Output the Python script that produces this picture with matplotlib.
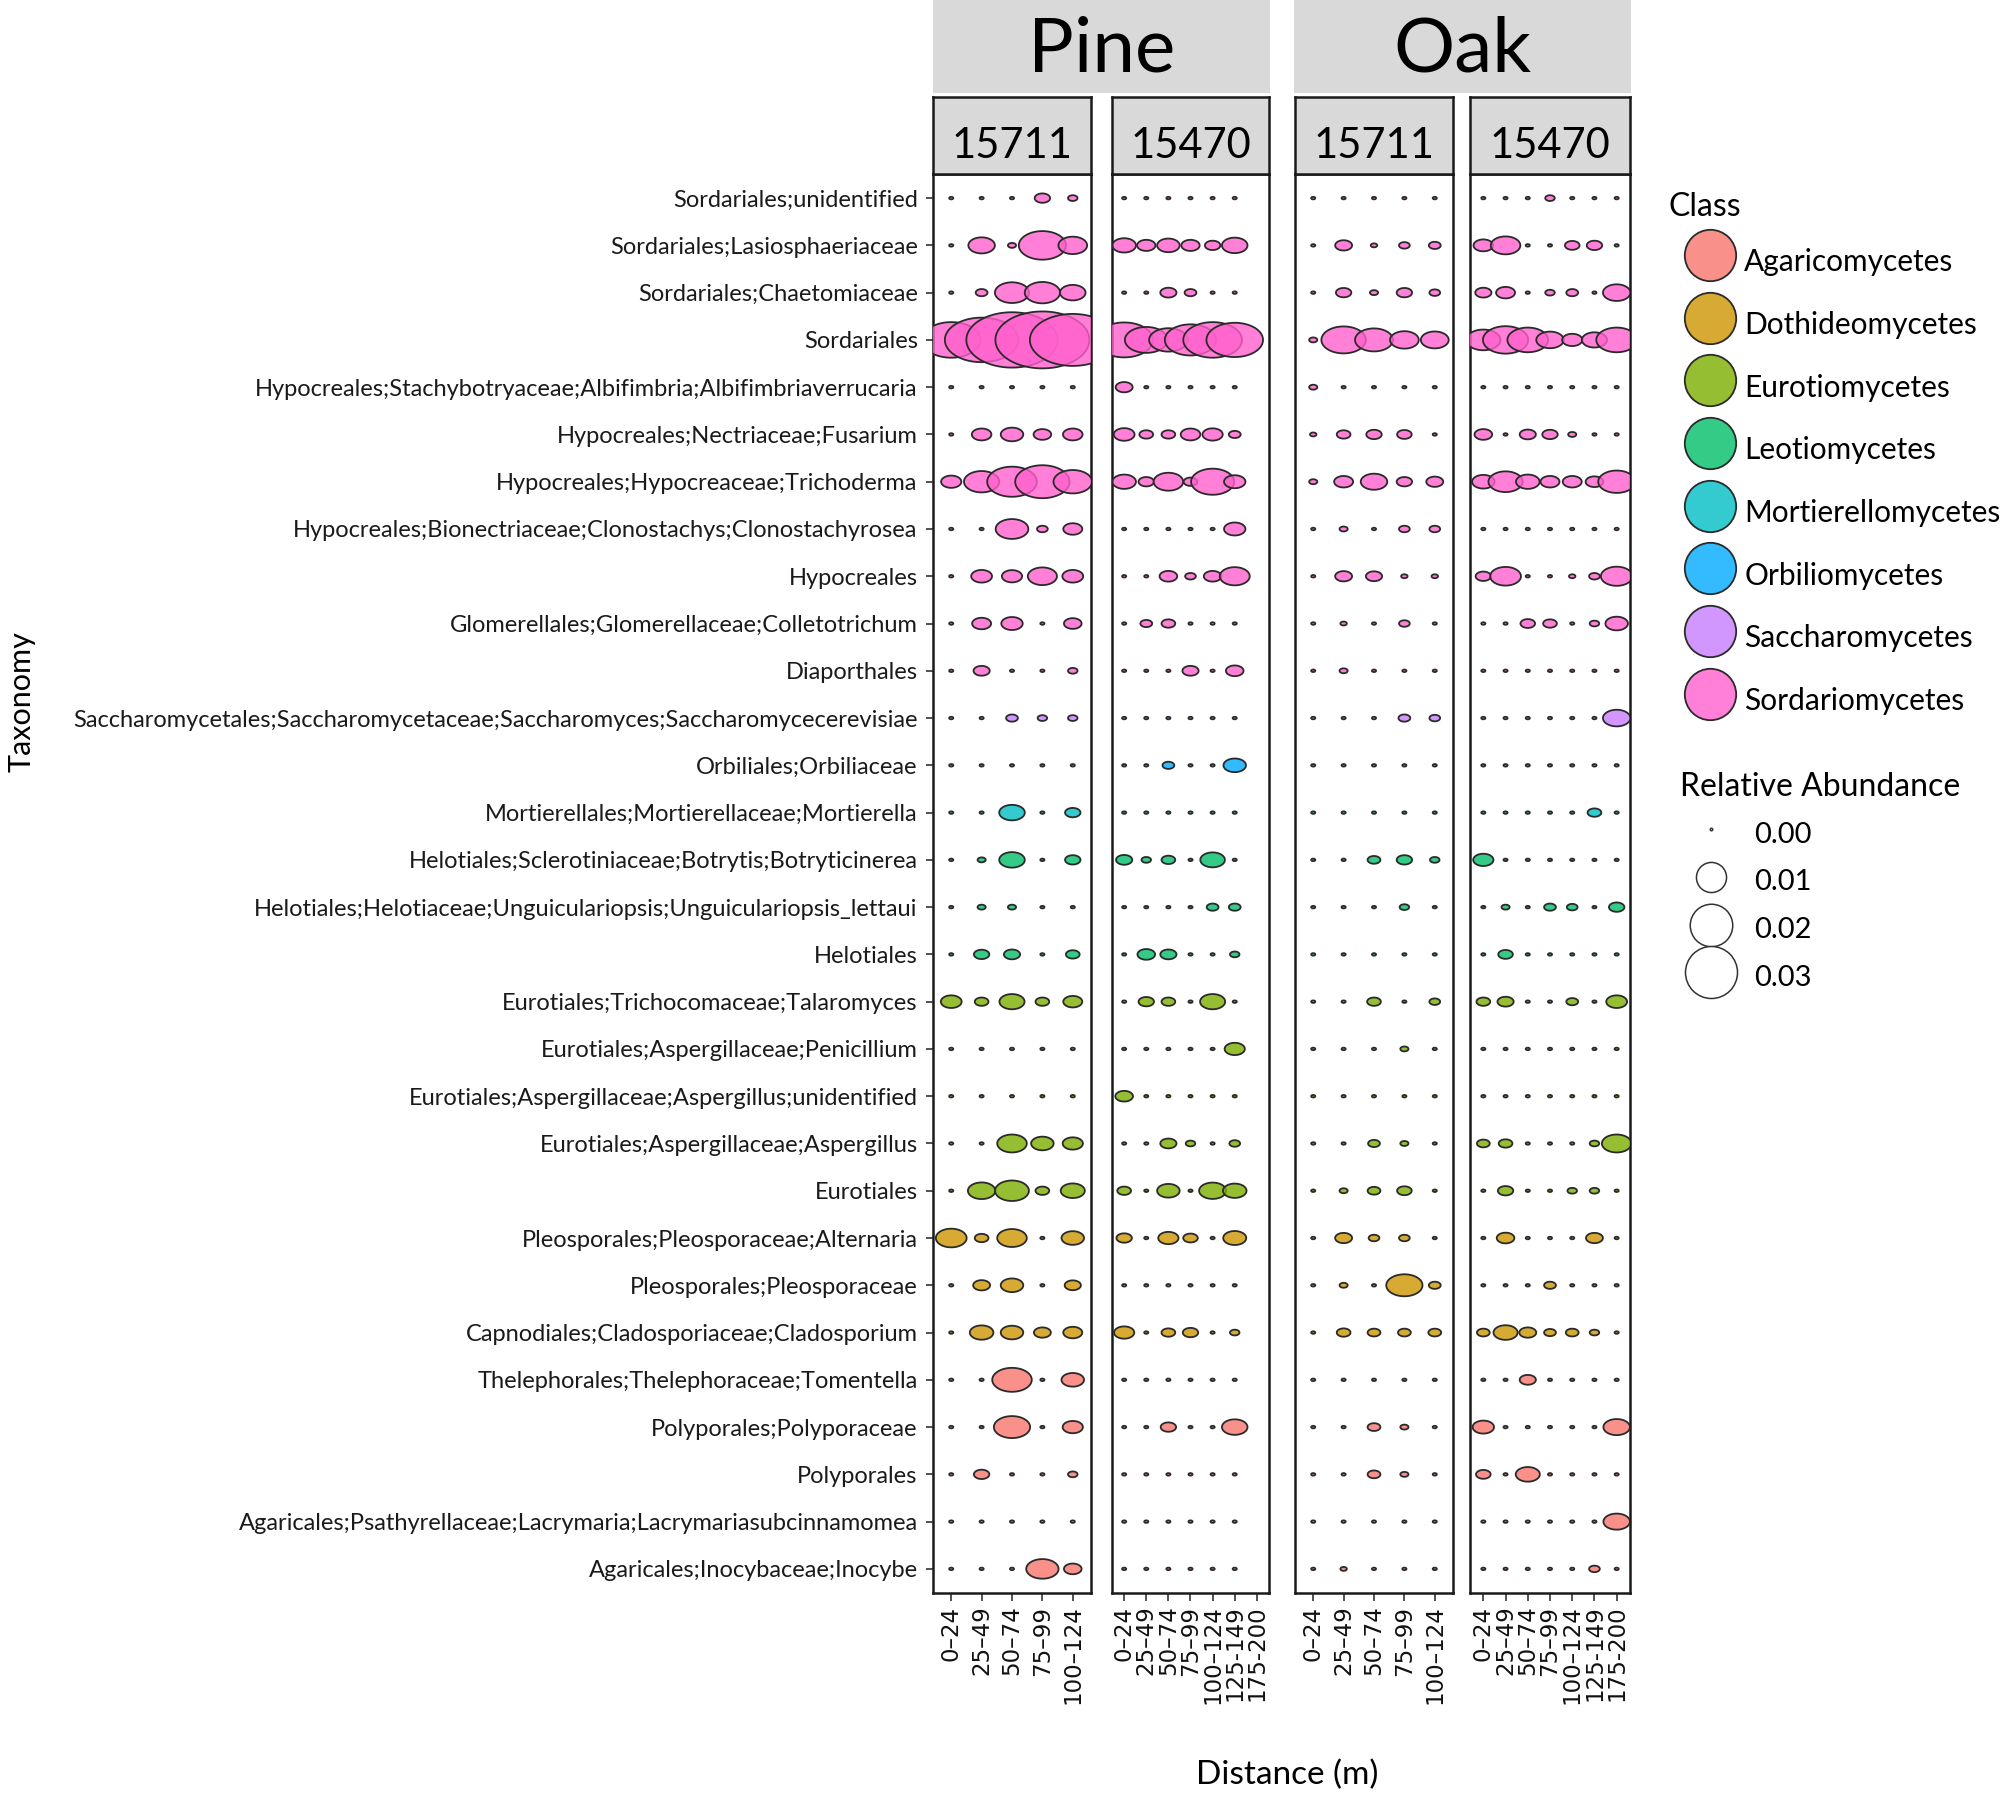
import numpy as np
import matplotlib.pyplot as plt
from matplotlib.path import Path
from matplotlib.lines import Line2D
from matplotlib.colors import to_rgba

W, H, DPI = 2008, 1801, 100
TEXT_FONT = ['Lato', 'DejaVu Sans']

taxa = [
    "Sordariales;unidentified",
    "Sordariales;Lasiosphaeriaceae",
    "Sordariales;Chaetomiaceae",
    "Sordariales",
    "Hypocreales;Stachybotryaceae;Albifimbria;Albifimbriaverrucaria",
    "Hypocreales;Nectriaceae;Fusarium",
    "Hypocreales;Hypocreaceae;Trichoderma",
    "Hypocreales;Bionectriaceae;Clonostachys;Clonostachyrosea",
    "Hypocreales",
    "Glomerellales;Glomerellaceae;Colletotrichum",
    "Diaporthales",
    "Saccharomycetales;Saccharomycetaceae;Saccharomyces;Saccharomycecerevisiae",
    "Orbiliales;Orbiliaceae",
    "Mortierellales;Mortierellaceae;Mortierella",
    "Helotiales;Sclerotiniaceae;Botrytis;Botryticinerea",
    "Helotiales;Helotiaceae;Unguiculariopsis;Unguiculariopsis_lettaui",
    "Helotiales",
    "Eurotiales;Trichocomaceae;Talaromyces",
    "Eurotiales;Aspergillaceae;Penicillium",
    "Eurotiales;Aspergillaceae;Aspergillus;unidentified",
    "Eurotiales;Aspergillaceae;Aspergillus",
    "Eurotiales",
    "Pleosporales;Pleosporaceae;Alternaria",
    "Pleosporales;Pleosporaceae",
    "Capnodiales;Cladosporiaceae;Cladosporium",
    "Thelephorales;Thelephoraceae;Tomentella",
    "Polyporales;Polyporaceae",
    "Polyporales",
    "Agaricales;Psathyrellaceae;Lacrymaria;Lacrymariasubcinnamomea",
    "Agaricales;Inocybaceae;Inocybe",
]

class_names = ["Agaricomycetes", "Dothideomycetes", "Eurotiomycetes", "Leotiomycetes",
               "Mortierellomycetes", "Orbiliomycetes", "Saccharomycetes", "Sordariomycetes"]
class_colors = ["#F8766D", "#CD9600", "#7CAE00", "#00BE67",
                "#00BFC4", "#00A9FF", "#C77CFF", "#FF61CC"]

# class of each taxon row (index into class_names)
taxon_class = [7] * 11 + [6, 5, 4, 3, 3, 3, 2, 2, 2, 2, 2, 1, 1, 1, 0, 0, 0, 0, 0]

dist_5 = ["0\u201324", "25\u201349", "50\u201374", "75\u201399", "100\u2013124"]
dist_7 = dist_5 + ["125-149", "175-200"]

# relative abundance, rows = taxa, columns = distance classes
pine_15711 = [
    [0, 0, 0, 0.0009, 0.0003],
    [0, 0.0028, 0.0002, 0.009, 0.0033],
    [0, 0.0005, 0.0047, 0.005, 0.0026],
    [0.014, 0.022, 0.034, 0.036, 0.03],
    [0, 0, 0, 0, 0],
    [0, 0.0015, 0.002, 0.0012, 0.0015],
    [0.0016, 0.005, 0.01, 0.012, 0.006],
    [0, 0, 0.0043, 0.0004, 0.0014],
    [0, 0.0017, 0.0016, 0.0034, 0.0017],
    [0, 0.0014, 0.0018, 0, 0.0012],
    [0, 0.001, 0, 0, 0.0003],
    [0, 0, 0.0005, 0.0003, 0.0003],
    [0, 0, 0, 0, 0],
    [0, 0, 0.0026, 0, 0.0009],
    [0, 0.0002, 0.0026, 0, 0.0009],
    [0, 0.0002, 0.0002, 0, 0],
    [0, 0.0009, 0.001, 0, 0.0007],
    [0.0017, 0.0007, 0.0025, 0.0007, 0.0014],
    [0, 0, 0, 0, 0],
    [0, 0, 0, 0, 0],
    [0, 0, 0.0035, 0.002, 0.0016],
    [0, 0.003, 0.0046, 0.0007, 0.0023],
    [0.0038, 0.0007, 0.0035, 0, 0.002],
    [0, 0.0011, 0.002, 0, 0.001],
    [0, 0.0022, 0.002, 0.0011, 0.0014],
    [0, 0, 0.0063, 0, 0.002],
    [0, 0, 0.0053, 0, 0.0016],
    [0, 0.0009, 0, 0, 0.0003],
    [0, 0, 0, 0, 0],
    [0, 0, 0, 0.0042, 0.0012],
]

# no sample in the 175-200 class at this site
pine_15470 = [
    [0, 0, 0, 0, 0, 0],
    [0.0022, 0.0013, 0.002, 0.0013, 0.0009, 0.0026],
    [0, 0, 0.001, 0.0005, 0, 0],
    [0.0135, 0.0074, 0.006, 0.0107, 0.014, 0.013],
    [0.0011, 0, 0, 0, 0, 0],
    [0.0017, 0.0007, 0.0007, 0.0015, 0.0016, 0.0005],
    [0.0022, 0.0009, 0.0035, 0.0007, 0.0075, 0.0018],
    [0, 0, 0, 0, 0, 0.0018],
    [0, 0, 0.0012, 0.0004, 0.0012, 0.0036],
    [0, 0.0005, 0.0007, 0, 0, 0],
    [0, 0, 0, 0.001, 0, 0.0012],
    [0, 0, 0, 0, 0, 0],
    [0, 0, 0.0005, 0, 0, 0.002],
    [0, 0, 0, 0, 0, 0],
    [0.001, 0.0003, 0.0007, 0, 0.0024, 0],
    [0, 0, 0, 0, 0.0005, 0.0005],
    [0, 0.0012, 0.001, 0, 0, 0.0003],
    [0, 0.0009, 0.0007, 0, 0.0025, 0],
    [0, 0, 0, 0, 0, 0.0016],
    [0.0012, 0, 0, 0, 0, 0],
    [0, 0, 0.001, 0.0003, 0, 0.0004],
    [0.0007, 0, 0.002, 0, 0.0029, 0.0022],
    [0.0009, 0, 0.0016, 0.0008, 0, 0.0021],
    [0, 0, 0, 0, 0, 0],
    [0.0016, 0, 0.0007, 0.0009, 0, 0.0003],
    [0, 0, 0, 0, 0, 0],
    [0, 0, 0.0009, 0, 0, 0.0026],
    [0, 0, 0, 0, 0, 0],
    [0, 0, 0, 0, 0, 0],
    [0, 0, 0, 0, 0, 0],
]

oak_15711 = [
    [0, 0, 0, 0, 0],
    [0, 0.0011, 0.0001, 0.0004, 0.0005],
    [0, 0.0009, 0.0002, 0.0009, 0.0004],
    [0.0002, 0.008, 0.0058, 0.0033, 0.0031],
    [0.0002, 0, 0, 0, 0],
    [0.0001, 0.0007, 0.0009, 0.0008, 0],
    [0.0002, 0.0014, 0.0028, 0.0009, 0.0011],
    [0, 0.0002, 0, 0.0004, 0.0004],
    [0, 0.0011, 0.001, 0.0001, 0.0001],
    [0, 0.0001, 0, 0.0004, 0],
    [0, 0.0002, 0, 0, 0],
    [0, 0, 0, 0.0005, 0.0004],
    [0, 0, 0, 0, 0],
    [0, 0, 0, 0, 0],
    [0, 0, 0.0006, 0.0009, 0.0003],
    [0, 0, 0, 0.0003, 0],
    [0, 0, 0, 0, 0],
    [0, 0, 0.0007, 0, 0.0004],
    [0, 0, 0, 0.0002, 0],
    [0, 0, 0, 0, 0],
    [0, 0, 0.0005, 0.0002, 0],
    [0, 0.0002, 0.0006, 0.0008, 0],
    [0, 0.0011, 0.0004, 0.0004, 0],
    [0, 0.0002, 0, 0.0053, 0.0005],
    [0, 0.0007, 0.0006, 0.0006, 0.0006],
    [0, 0, 0, 0, 0],
    [0, 0, 0.0006, 0.0002, 0],
    [0, 0, 0.0006, 0.0002, 0],
    [0, 0, 0, 0, 0],
    [0, 0.0001, 0, 0, 0],
]

oak_15470 = [
    [0, 0, 0, 0.0003, 0, 0, 0],
    [0.0015, 0.0035, 0, 0, 0.0008, 0.0009, 0],
    [0.001, 0.0014, 0, 0.0003, 0.0005, 0, 0.003],
    [0.0047, 0.0083, 0.0067, 0.003, 0.0016, 0.0025, 0.0067],
    [0, 0, 0, 0, 0, 0, 0],
    [0.0012, 0, 0.001, 0.0009, 0.0002, 0, 0],
    [0.002, 0.0047, 0.0022, 0.0014, 0.0014, 0.0012, 0.0055],
    [0, 0, 0, 0, 0, 0, 0],
    [0.0009, 0.0038, 0, 0, 0.0001, 0.0004, 0.004],
    [0, 0, 0.0008, 0.0007, 0, 0.0003, 0.002],
    [0, 0, 0, 0, 0, 0, 0],
    [0, 0, 0, 0, 0, 0, 0.003],
    [0, 0, 0, 0, 0, 0, 0],
    [0, 0, 0, 0, 0, 0.0007, 0],
    [0.0016, 0, 0, 0, 0, 0, 0],
    [0, 0.0002, 0, 0.0005, 0.0004, 0, 0.0009],
    [0, 0.0008, 0, 0, 0, 0, 0],
    [0.0007, 0.001, 0, 0, 0.0005, 0, 0.0017],
    [0, 0, 0, 0, 0, 0, 0],
    [0, 0, 0, 0, 0, 0, 0],
    [0.0006, 0.0007, 0, 0, 0, 0.0003, 0.0035],
    [0, 0.0009, 0, 0, 0.0003, 0.0003, 0],
    [0, 0.0012, 0, 0, 0, 0.0011, 0],
    [0, 0, 0, 0.0005, 0, 0, 0],
    [0.0006, 0.0023, 0.0011, 0.0005, 0.0006, 0.0003, 0],
    [0, 0, 0.001, 0, 0, 0, 0],
    [0.0018, 0, 0, 0, 0, 0, 0.0028],
    [0.0008, 0, 0.0023, 0, 0, 0, 0],
    [0, 0, 0, 0, 0, 0, 0.0028],
    [0, 0, 0, 0, 0, 0.0004, 0],
]

size_breaks = [0.00, 0.01, 0.02, 0.03]
size_labels = ["0.00", "0.01", "0.02", "0.03"]

# bubbles in the panels come out wider than tall
ASPECT = 1.65
FILL_ALPHA = 0.8


def bubble_px(v):
    # height in pixels, area proportional to abundance
    return np.sqrt(2.5 ** 2 + 90000 * np.asarray(v, dtype=float))


def rect(x0, x1, y0, y1):
    return [x0 / W, 1 - y1 / H, (x1 - x0) / W, (y1 - y0) / H]


t = np.linspace(0, 2 * np.pi, 72)
ellipse = Path(np.column_stack([np.cos(t), np.sin(t) / ASPECT]), closed=True)

fig = plt.figure(figsize=(W / DPI, H / DPI), dpi=DPI)

pine_15470_full = np.column_stack([np.array(pine_15470, float), np.full(len(taxa), np.nan)])

panels = [
    ("15711", np.array(pine_15711, float), dist_5, (933, 1091), (-0.6, 4.6)),
    ("15470", pine_15470_full, dist_7, (1112, 1269), (-0.55, 6.55)),
    ("15711", np.array(oak_15711, float), dist_5, (1295, 1453), (-0.6, 4.6)),
    ("15470", np.array(oak_15470, float), dist_7, (1470, 1630), (-0.6, 6.6)),
]
PANEL_TOP, PANEL_BOTTOM = 174, 1593

for k, (site, vals, dists, (x0, x1), xlim) in enumerate(panels):
    ax = fig.add_axes(rect(x0, x1, PANEL_TOP, PANEL_BOTTOM))
    for i in range(len(taxa)):
        row = vals[i]
        ok = ~np.isnan(row)
        xs = np.arange(len(dists))[ok]
        ys = np.full(xs.size, i)
        sizes = (bubble_px(row[ok]) * ASPECT * 72 / DPI) ** 2
        face = to_rgba(class_colors[taxon_class[i]], FILL_ALPHA)
        ax.scatter(xs, ys, s=sizes, marker=ellipse, facecolors=[face],
                   edgecolors="#2a2a2a", linewidths=1.3, zorder=3)
    ax.set_xlim(*xlim)
    ax.set_ylim(len(taxa) - 0.49, -0.51)
    ax.set_xticks(range(len(dists)))
    ax.set_xticklabels(dists, rotation=90, fontsize=16.5, family="DejaVu Sans", color="#111111")
    ax.tick_params(axis="x", length=6, width=1.2, color="#333333", pad=3)
    for sp in ax.spines.values():
        sp.set_linewidth(1.8)
        sp.set_color("#1a1a1a")
    ax.set_yticks(range(len(taxa)))
    if k == 0:
        ax.set_yticklabels(taxa, family=TEXT_FONT, fontsize=15, color="#1a1a1a")
        ax.tick_params(axis="y", length=5, width=1.2, color="#333333", pad=6)
        yax = ax
    else:
        ax.set_yticklabels([])
        ax.tick_params(axis="y", length=0)

    # site strip above each panel
    sx = fig.add_axes(rect(x0, x1, 97, PANEL_TOP))
    sx.set_facecolor("#D9D9D9")
    sx.set_xticks([])
    sx.set_yticks([])
    for sp in sx.spines.values():
        sp.set_linewidth(1.8)
        sp.set_color("#1a1a1a")
    sx.text(0.5, 0.36, site, transform=sx.transAxes, ha="center", va="center",
            fontsize=30, family=TEXT_FONT)

# forest strips on top
for name, (x0, x1) in [("Pine", (933, 1270)), ("Oak", (1294, 1631))]:
    tx = fig.add_axes(rect(x0, x1, 0, 93))
    tx.set_facecolor("#D9D9D9")
    tx.set_xticks([])
    tx.set_yticks([])
    for sp in tx.spines.values():
        sp.set_visible(False)
    tx.text(0.5, 0.46, name, transform=tx.transAxes, ha="center", va="center",
            fontsize=55, family=TEXT_FONT)

# make the longest taxon label span the same width as in the original
fig.canvas.draw()
renderer = fig.canvas.get_renderer()
widest = max(lbl.get_window_extent(renderer).width for lbl in yax.get_yticklabels())
scale = 849 / widest
for lbl in yax.get_yticklabels():
    lbl.set_fontsize(15 * scale)

fig.text(22 / W, 1 - 702 / H, "Taxonomy", rotation=90, ha="center", va="center",
         fontsize=22, family=TEXT_FONT)
fig.text(1287 / W, 1 - 1775 / H, "Distance (m)", ha="center", va="center",
         fontsize=24, family=TEXT_FONT)

# class legend
class_handles = [Line2D([], [], linestyle="", marker="o", markersize=37,
                        markerfacecolor=to_rgba(c, FILL_ALPHA), markeredgecolor="#2a2a2a",
                        markeredgewidth=1.3) for c in class_colors]
leg1 = fig.legend(class_handles, class_names, title="Class", loc="upper left",
                  bbox_to_anchor=(1669 / W, 1 - 192 / H), frameon=False, borderpad=0,
                  borderaxespad=0, numpoints=1, handlelength=2.75, handletextpad=-0.23,
                  handleheight=2.0, labelspacing=0.555, alignment="left",
                  prop={"family": TEXT_FONT, "size": 21.5},
                  title_fontproperties={"family": TEXT_FONT, "size": 23})

# size legend
size_handles = [Line2D([], [], linestyle="", marker="o",
                       markersize=float(bubble_px(v)) * 72 / DPI,
                       markerfacecolor="white", markeredgecolor="#333333",
                       markeredgewidth=1.1) for v in size_breaks]
leg2 = fig.legend(size_handles, size_labels, title="Relative Abundance", loc="upper left",
                  bbox_to_anchor=(1680 / W, 1 - 772 / H), frameon=False, borderpad=0,
                  borderaxespad=0, numpoints=1, handlelength=2.12, handletextpad=0.41,
                  handleheight=1.4, labelspacing=0.48, alignment="left",
                  prop={"family": TEXT_FONT, "size": 21},
                  title_fontproperties={"family": TEXT_FONT, "size": 23})

fig.savefig("out.png", dpi=DPI)
